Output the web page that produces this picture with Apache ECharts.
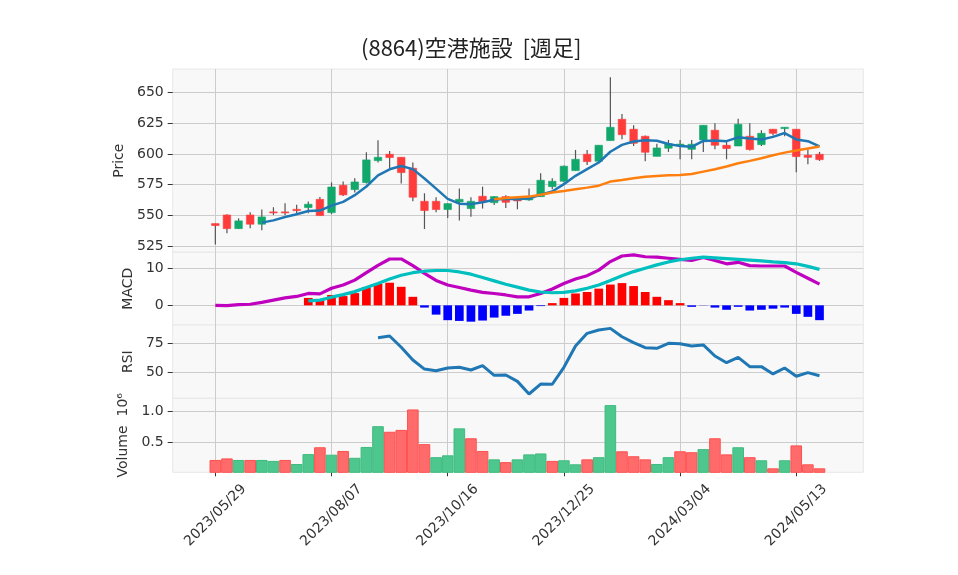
<!DOCTYPE html>
<html>
<head>
<meta charset="utf-8">
<script src="https://cdn.jsdelivr.net/npm/echarts@6/dist/echarts.min.js"></script>
<style>
  html, body { margin: 0; padding: 0; background: #fff; }
  #chart { width: 958px; height: 575px; }
</style>
</head>
<body>
<div id="chart"></div>
<script>
// weekly bars, index 0 = 2023/05/29
var xTickPos = [0, 10, 20, 30, 40, 50];
var xTickLabels = ['2023/05/29', '2023/08/07', '2023/10/16', '2023/12/25', '2024/03/04', '2024/05/13'];

var open = [543.4, 550.4, 539.3, 550.4, 542.9, 552.9, 552.9, 555.0, 556.4, 563.1,
  552.3, 574.5, 571.0, 576.7, 594.5, 599.7, 597.2, 588.3, 561.5, 561.5,
  554.8, 561.0, 555.6, 565.6, 560.4, 565.3, 563.1, 562.6, 565.3, 573.4,
  577.8, 586.4, 599.7, 594.0, 610.8, 628.1, 620.0, 614.3, 598.0, 604.6,
  607.0, 603.7, 611.3, 619.2, 607.0, 606.4, 614.3, 607.5, 620.0, 620.5,
  620.0, 598.9, 599.7];
var close = [541.8, 539.3, 545.6, 542.9, 548.8, 552.1, 552.1, 553.9, 559.1, 549.9,
  573.1, 566.7, 577.2, 595.1, 597.2, 597.0, 584.8, 564.8, 554.0, 554.8,
  559.6, 563.1, 561.5, 561.3, 565.3, 560.7, 561.8, 565.0, 578.6, 577.8,
  590.0, 595.6, 593.7, 607.0, 621.6, 615.6, 608.6, 601.3, 604.8, 608.1,
  607.9, 607.8, 623.2, 607.0, 604.3, 624.0, 603.5, 616.7, 616.7, 621.6,
  597.8, 597.2, 595.3];
var low = [526.5, 535.5, 539.0, 539.6, 538.0, 550.4, 550.4, 551.8, 551.8, 549.9,
  551.0, 565.9, 568.6, 576.0, 592.9, 588.0, 576.0, 561.5, 539.0, 552.6,
  548.0, 546.0, 549.0, 555.6, 558.5, 556.1, 555.0, 562.0, 565.0, 571.3,
  576.7, 586.4, 591.0, 594.0, 610.8, 611.9, 606.4, 594.0, 598.0, 601.6,
  595.6, 595.6, 601.6, 603.7, 595.6, 606.4, 602.7, 606.4, 615.0, 614.3,
  585.0, 591.6, 594.3];
var high = [543.5, 551.0, 547.7, 552.6, 554.8, 556.7, 559.9, 558.8, 561.3, 565.0,
  576.9, 577.5, 580.2, 601.3, 611.0, 602.4, 597.5, 592.9, 568.0, 564.8,
  560.0, 571.8, 564.8, 573.4, 565.8, 566.4, 564.8, 571.8, 584.3, 580.2,
  590.5, 603.2, 603.2, 607.0, 662.2, 632.4, 623.2, 615.0, 608.3, 611.3,
  611.3, 611.3, 623.2, 624.8, 609.7, 628.6, 624.8, 619.2, 620.0, 621.6,
  620.0, 603.7, 601.6];

// moving averages (first value sits on bar 4 / bar 24)
var ma5Start = 4;
var ma5 = [544.2, 546.0, 548.8, 551.0, 553.6, 554.0, 558.0, 561.0, 566.5, 573.5,
  582.5, 587.5, 590.2, 587.6, 580.0, 571.8, 563.5, 559.6, 559.2, 560.8,
  562.8, 563.5, 563.2, 564.0, 566.8, 569.4, 575.4, 582.2, 587.6, 593.0,
  601.7, 607.3, 610.0, 611.0, 610.6, 608.0, 606.3, 605.7, 610.5, 610.8,
  610.3, 613.4, 612.4, 611.6, 613.8, 616.9, 611.7, 610.3, 606.0];
var ma25Start = 24;
var ma25 = [563.1, 564.2, 564.8, 565.3, 566.9, 568.6, 569.9, 571.3, 572.6, 574.2,
  577.5, 578.8, 580.2, 581.5, 582.1, 582.6, 582.9, 583.7, 585.6, 587.5,
  589.7, 592.4, 594.3, 596.4, 598.9, 601.0, 602.7, 604.3, 605.9];

var macd = [0.0, -0.1, 0.2, 0.3, 0.8, 1.4, 2.0, 2.4, 3.2, 3.1,
  4.6, 5.5, 6.8, 8.8, 10.8, 12.5, 12.5, 10.7, 8.6, 6.7,
  5.5, 4.8, 4.1, 3.5, 3.2, 2.8, 2.3, 2.3, 3.2, 4.4,
  5.9, 7.1, 8.0, 9.5, 11.8, 13.3, 13.6, 13.1, 13.0, 12.7,
  12.4, 12.1, 12.9, 12.1, 11.2, 11.6, 10.7, 10.6, 10.6, 10.6,
  8.9, 7.3, 5.7];
var sigStart = 8;
var signal = [1.2, 1.4, 2.2, 2.9, 3.7, 4.8, 5.9, 7.1, 8.1, 8.8,
  9.2, 9.4, 9.4, 9.0, 8.4, 7.5, 6.6, 5.7, 4.9, 4.1,
  3.6, 3.4, 3.5, 3.9, 4.6, 5.5, 6.7, 8.0, 9.1, 10.0,
  10.9, 11.7, 12.3, 12.7, 13.0, 12.8, 12.6, 12.4, 12.2, 12.0,
  11.7, 11.5, 11.2, 10.5, 9.7];
var hist = [2.0, 1.6, 2.8, 2.5, 3.3, 4.9, 5.8, 6.1, 5.0, 2.3,
  -0.6, -2.5, -4.0, -4.2, -4.4, -4.1, -3.3, -2.8, -2.3, -1.4,
  -0.2, 0.6, 2.0, 3.2, 3.6, 4.5, 5.6, 6.0, 5.2, 3.6,
  2.3, 1.4, 0.6, -0.4, -0.05, -0.6, -1.2, -0.4, -1.4, -1.2,
  -0.9, -0.6, -2.3, -3.1, -4.0];

var rsiStart = 14;
var rsi = [79.9, 81.3, 71.6, 60.6, 52.8, 51.4, 53.7, 54.3, 52.0, 55.7,
  47.4, 47.7, 42.2, 31.3, 39.9, 39.7, 54.3, 72.7, 83.6, 86.5,
  87.9, 80.7, 75.6, 71.2, 70.7, 75.0, 74.7, 72.7, 73.6, 64.1,
  58.3, 62.9, 54.9, 54.9, 48.6, 53.7, 46.6, 49.7, 47.1];

// volume in millions, volUp: 1 = close above previous close
var volume = [0.215, 0.24, 0.215, 0.215, 0.215, 0.20, 0.215, 0.15, 0.31, 0.42,
  0.30, 0.36, 0.25, 0.425, 0.76, 0.67, 0.70, 1.03, 0.47, 0.26,
  0.29, 0.725, 0.565, 0.36, 0.225, 0.18, 0.225, 0.305, 0.32, 0.20,
  0.21, 0.145, 0.225, 0.26, 1.10, 0.355, 0.275, 0.225, 0.15, 0.26,
  0.355, 0.34, 0.39, 0.565, 0.305, 0.42, 0.26, 0.21, 0.08, 0.21,
  0.45, 0.145, 0.08];
var volUp = [0, 0, 1, 0, 1, 1, 0, 1, 1, 0,
  1, 0, 1, 1, 1, 0, 0, 0, 0, 1,
  1, 1, 0, 0, 1, 0, 1, 1, 1, 0,
  1, 1, 0, 1, 1, 0, 0, 0, 1, 1,
  0, 0, 1, 0, 0, 1, 0, 1, 0, 1,
  0, 0, 0];

var chart = echarts.init(document.getElementById('chart'));

var FONT = 'DejaVu Sans';
var UP = '#13a86b', DOWN = '#ff3c3c';
var GL = 172.7, GR = 94.7;

function withIndex(arr, start) {
  return arr.map(function (v, k) { return [k + start, v]; });
}

var candleData = open.map(function (o, i) { return [i, o, close[i], low[i], high[i]]; });

function renderCandle(params, api) {
  var x = api.value(0);
  var o = api.value(1), c = api.value(2), l = api.value(3), h = api.value(4);
  var pl = api.coord([x, l]), ph = api.coord([x, h]);
  var po = api.coord([x, o]), pc = api.coord([x, c]);
  var w = api.size([1, 0])[0] * 0.65;
  var col = c >= o ? UP : DOWN;
  var top = Math.min(po[1], pc[1]);
  var hgt = Math.max(Math.abs(po[1] - pc[1]), 1);
  return {
    type: 'group',
    children: [
      { type: 'line', shape: { x1: pl[0], y1: pl[1], x2: ph[0], y2: ph[1] },
        style: { stroke: '#555', lineWidth: 1.2 } },
      { type: 'rect', shape: { x: po[0] - w / 2, y: top, width: w, height: hgt },
        style: { fill: col, stroke: col, lineWidth: 0.6 } }
    ]
  };
}

function xAxisFor(g, bottom) {
  return {
    type: 'value', gridIndex: g, min: -3.67, max: 55.77,
    axisLine: { show: false, onZero: false },
    axisTick: { show: bottom, customValues: xTickPos, length: 4, lineStyle: { color: '#333' } },
    axisLabel: {
      show: bottom, customValues: xTickPos, rotate: 45, align: 'center', verticalAlign: 'middle',
      margin: 43, fontSize: 14, color: '#333', fontFamily: FONT,
      formatter: function (v) { return xTickLabels[xTickPos.indexOf(v)]; }
    },
    splitLine: { show: true, lineStyle: { color: '#cccccc', width: 1 } }
  };
}

function yAxisFor(g, min, max, ticks, name, gap, fmt) {
  return {
    type: 'value', gridIndex: g, min: min, max: max,
    name: name, nameLocation: 'middle', nameRotate: 90, nameGap: gap,
    nameTextStyle: { fontSize: 14, color: '#333', fontFamily: FONT },
    axisLine: { show: false, onZero: false },
    axisTick: { show: true, customValues: ticks, length: 5, lineStyle: { color: '#333' } },
    axisLabel: { customValues: ticks, margin: 9, fontSize: 14, color: '#333', fontFamily: FONT, formatter: fmt },
    splitLine: { show: true, lineStyle: { color: '#cccccc', width: 1 } }
  };
}

function gridAt(top, height) {
  return { left: GL, right: GR, top: top, height: height, show: true,
    backgroundColor: '#f8f8f8', borderColor: '#e8e8e8', borderWidth: 1 };
}

var option = {
  animation: false,
  backgroundColor: '#ffffff',
  title: {
    text: '(8864)空港施設  [週足]',
    left: 356, top: 32,
    textStyle: { fontSize: 22, fontWeight: 'normal', color: '#222', fontFamily: 'Noto Sans CJK JP' }
  },
  grid: [gridAt(69, 183.3), gridAt(252.3, 72.7), gridAt(325, 73.3), gridAt(398.3, 74)],
  xAxis: [xAxisFor(0, false), xAxisFor(1, false), xAxisFor(2, false), xAxisFor(3, true)],
  yAxis: [
    yAxisFor(0, 520.1, 668.9, [525, 550, 575, 600, 625, 650], 'Price', 43),
    yAxisFor(1, -5.3, 14.3, [0, 10], 'MACD', 35),
    yAxisFor(2, 27.6, 90.8, [50, 75], 'RSI', 34),
    yAxisFor(3, 0.016, 1.21, [0.5, 1.0], 'Volume  10⁶', 38, function (v) { return v.toFixed(1); })
  ],
  series: [
    { type: 'custom', xAxisIndex: 0, yAxisIndex: 0, renderItem: renderCandle,
      encode: { x: 0, y: [1, 2, 3, 4] }, data: candleData, z: 2 },
    { type: 'line', xAxisIndex: 0, yAxisIndex: 0, data: withIndex(ma5, ma5Start),
      showSymbol: false, lineStyle: { color: '#1f77b4', width: 2.5 }, z: 3 },
    { type: 'line', xAxisIndex: 0, yAxisIndex: 0, data: withIndex(ma25, ma25Start),
      showSymbol: false, lineStyle: { color: '#ff7f0e', width: 2.5 }, z: 3 },

    { type: 'bar', xAxisIndex: 1, yAxisIndex: 1, data: withIndex(hist, sigStart), barWidth: 8.7, z: 1,
      itemStyle: { color: function (p) { return p.value[1] >= 0 ? '#ff0000' : '#0000ff'; } } },
    { type: 'line', xAxisIndex: 1, yAxisIndex: 1, data: withIndex(macd, 0),
      showSymbol: false, lineStyle: { color: '#bf00bf', width: 3.2 }, z: 3 },
    { type: 'line', xAxisIndex: 1, yAxisIndex: 1, data: withIndex(signal, sigStart),
      showSymbol: false, lineStyle: { color: '#00bfbf', width: 3.2 }, z: 3 },

    { type: 'line', xAxisIndex: 2, yAxisIndex: 2, data: withIndex(rsi, rsiStart),
      showSymbol: false, lineStyle: { color: '#1f77b4', width: 3 }, z: 3 },

    { type: 'bar', xAxisIndex: 3, yAxisIndex: 3, barWidth: 11.6, z: 2,
      data: volume.map(function (v, i) {
        var up = volUp[i] === 1;
        return { value: [i, v], itemStyle: {
          color: up ? '#4ec78f' : '#ff6b6b',
          borderColor: up ? '#3dbb7e' : '#ff5050', borderWidth: 1 } };
      }) }
  ]
};

chart.setOption(option);
</script>
</body>
</html>
